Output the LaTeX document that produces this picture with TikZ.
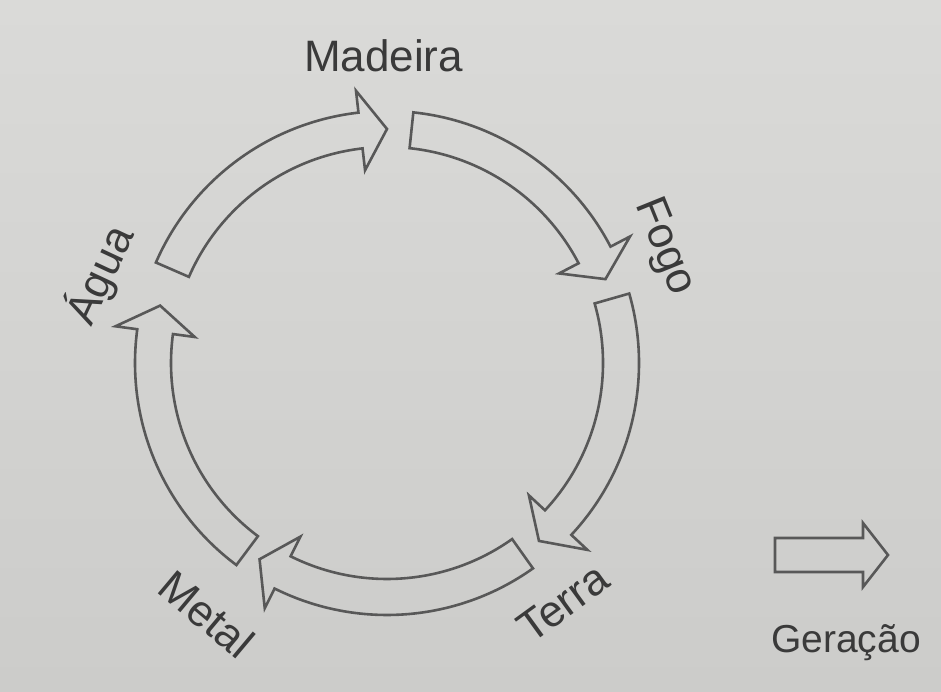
\documentclass[tikz,border=0pt]{standalone}
\usepackage{fontspec}
\setmainfont{Liberation Sans}
\definecolor{paper}{RGB}{218,218,216}
\definecolor{paperdark}{RGB}{204,204,202}
\definecolor{ink}{RGB}{88,88,88}
\definecolor{lettering}{RGB}{58,58,58}
\tikzset{
  genarrow/.style={draw=ink, line width=2.6pt, line join=miter},
  element/.style={font=\fontsize{44}{44}\selectfont, text=lettering, inner sep=0pt},
  legendtext/.style={font=\fontsize{39}{39}\selectfont, text=lettering, inner sep=0pt}
}
\newcommand{\GenArrow}[2]{%
  \draw[genarrow] (#1:252pt) arc[start angle=#1, end angle=#2+6.5, radius=252pt]
    -- (#2+6.5:274pt) -- (#2:234pt) -- (#2+6.5:194pt) -- (#2+6.5:216pt)
    arc[start angle=#2+6.5, end angle=#1, radius=216pt] -- cycle;}

\begin{document}
\begin{tikzpicture}[x=1pt, y=1pt]

\shade[top color=paper, bottom color=paperdark] (0,0) rectangle (941,691);
\useasboundingbox (0,0) rectangle (941,691);

\node[element, anchor=base] (madeira) at (383.5,619) {Madeira};
\node[element, rotate=-68] (fogo) at (664,444) {Fogo};
\node[element, rotate=36] (terra) at (563,88) {Terra};
\node[element, rotate=-40] (metal) at (207,77) {Metal};
\node[element, rotate=65] (agua) at (100,416) {Água};

\coordinate (centre) at (387,328);
\begin{scope}[shift={(centre)}]
\GenArrow{156.5}{90}
\GenArrow{84}{21}
\GenArrow{16}{-49.5}
\GenArrow{-54.6}{-123}
\GenArrow{233.3}{165.8}
\end{scope}

\coordinate (legend) at (775,136);
\draw[genarrow] (legend) ++(0,-17) -- ++(88,0) -- ++(0,-15) -- ++(25,32) -- ++(-25,32) -- ++(0,-15) -- ++(-88,0) -- cycle;
\node[legendtext, anchor=base] (geracao) at (846,39) {Geração};

\end{tikzpicture}
\end{document}
